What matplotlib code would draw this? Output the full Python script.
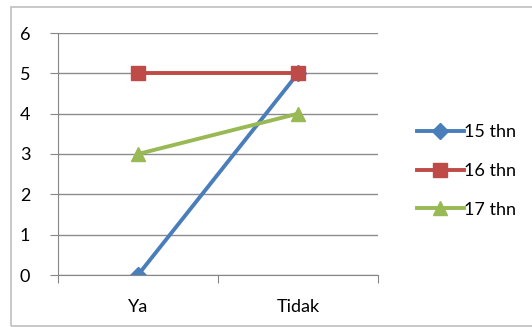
import matplotlib
matplotlib.use('Agg')
import matplotlib.pyplot as plt
from matplotlib.patches import Rectangle

categories = ['Ya', 'Tidak']
series_names = ['15 thn', '16 thn', '17 thn']
s15 = [0, 5]
s16 = [5, 5]
s17 = [3, 4]

plt.rcParams['font.family'] = ['Lato', 'DejaVu Sans']

fig = plt.figure(figsize=(5.32, 3.27), dpi=100)
fig.patches.append(Rectangle((11 / 532, 1 / 327), 530 / 532, 319 / 327,
                             transform=fig.transFigure, fill=False,
                             edgecolor='#bfbfbf', linewidth=1.2))

ax = fig.add_axes([58 / 532, 52 / 327, 320 / 532, 242 / 327])
x = [0.5, 1.5]

ax.plot(x, s15, color='#4a7ebb', lw=2.8, marker='D', ms=8, label=series_names[0])
ax.plot(x, s16, color='#be4b48', lw=2.8, marker='s', ms=10, label=series_names[1])
ax.plot(x, s17, color='#98b954', lw=2.8, marker='^', ms=10, label=series_names[2])

ax.set_xlim(0, 2)
ax.set_ylim(0, 6)
ax.set_yticks(range(7))
ax.set_xticks([0, 1, 2])
ax.set_xticklabels([])
ax.set_xticks(x, minor=True)
ax.set_xticklabels(categories, minor=True)
ax.tick_params(axis='x', which='minor', length=0, pad=17, labelsize=13)
ax.tick_params(axis='x', which='major', length=6, color='#868686', direction='out')
ax.tick_params(axis='y', length=6, color='#868686', direction='out', labelsize=13, pad=14)
ax.grid(axis='y', color='#8c8c8c', lw=1)
ax.set_axisbelow(True)
for side in ['top', 'right']:
    ax.spines[side].set_visible(False)
for side in ['left', 'bottom']:
    ax.spines[side].set_color('#868686')

ax.legend(loc='center left', bbox_to_anchor=(1.07, 0.43), frameon=False,
          fontsize=13, handlelength=2.6, handletextpad=0.05, labelspacing=1.25)

fig.savefig('out.png', dpi=100)
